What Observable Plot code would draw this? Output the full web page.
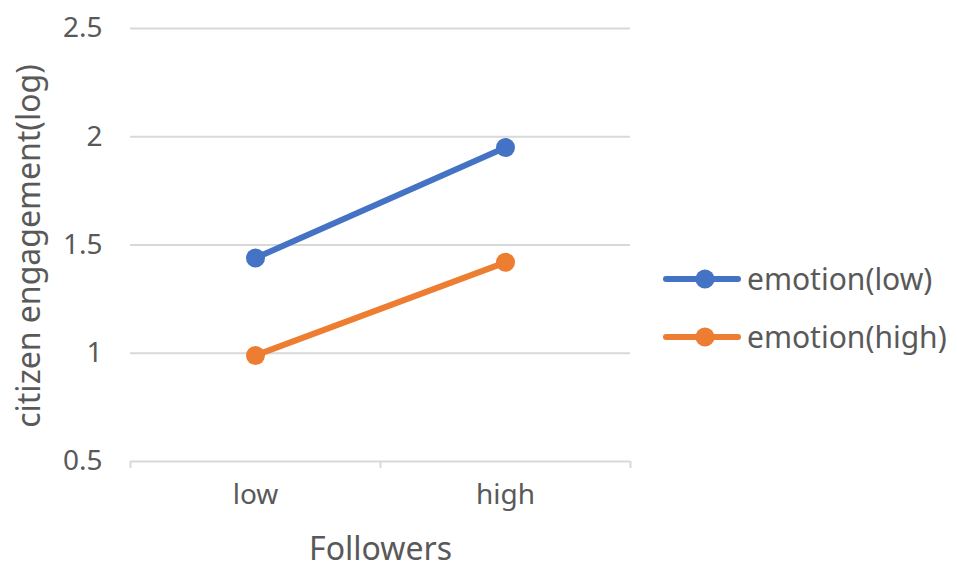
<!DOCTYPE html>
<html>
<head>
<meta charset="utf-8">
<script src="https://cdn.jsdelivr.net/npm/d3@7"></script>
<script src="https://cdn.jsdelivr.net/npm/@observablehq/plot@0.6"></script>
<style>
  html, body { margin: 0; padding: 0; background: #fff; }
  #wrap { position: relative; width: 957px; height: 579px; font-family: "Noto Sans", sans-serif; }
  .legend { position: absolute; left: 663px; display: flex; align-items: center; color: #595959; font-size: 30px; }
  .legend svg { margin-right: 6px; }
</style>
</head>
<body>
<div id="wrap"></div>
<script>
const followers = ["low", "high"];
const seriesNames = ["emotion(low)", "emotion(high)"];
const emotionLow = [1.44, 1.95];
const emotionHigh = [0.99, 1.42];
const yTicks = [0.5, 1, 1.5, 2, 2.5];
const colors = ["#4472C4", "#ED7D31"];
const yTitle = "citizen engagement(log)";
const xTitle = "Followers";

const xPos = followers.map((f, i) => i + 0.5);
const data = [];
followers.forEach((f, i) => {
  data.push({series: seriesNames[0], x: xPos[i], y: emotionLow[i]});
  data.push({series: seriesNames[1], x: xPos[i], y: emotionHigh[i]});
});

const font = "Noto Sans, sans-serif";
const chart = Plot.plot({
  width: 957,
  height: 579,
  marginLeft: 130,
  marginRight: 327,
  marginTop: 28,
  marginBottom: 118,
  style: {fontFamily: font, color: "#595959", background: "#fff"},
  x: {type: "linear", domain: [0, followers.length]},
  y: {domain: [0.5, 2.5]},
  color: {domain: seriesNames, range: colors},
  marks: [
    Plot.gridY(yTicks.slice(1), {stroke: "#d9d9d9", strokeOpacity: 1, strokeWidth: 2}),
    Plot.ruleY([0.5], {stroke: "#d9d9d9", strokeWidth: 2}),
    Plot.axisX({ticks: d3.range(followers.length + 1), tickSize: 7, tickFormat: () => "", stroke: "#d9d9d9", strokeWidth: 2, label: null}),
    Plot.axisX({ticks: xPos, tickSize: 0, tickPadding: 23, tickFormat: d => followers[Math.round(d - 0.5)], fontSize: 28, fill: "#595959", label: null}),
    Plot.axisY({ticks: yTicks, tickSize: 0, tickPadding: 28, tickFormat: d => String(d), fontSize: 28, fill: "#595959", label: null}),
    Plot.text([yTitle], {frameAnchor: "left", rotate: -90, dx: -101, dy: 1, fontSize: 32, fill: "#595959", textAnchor: "middle", lineAnchor: "middle"}),
    Plot.text([xTitle], {frameAnchor: "bottom", dy: 88, fontSize: 32, fill: "#595959", textAnchor: "middle", lineAnchor: "middle"}),
    Plot.line(data, {x: "x", y: "y", stroke: "series", z: "series", strokeWidth: 6}),
    Plot.dot(data, {x: "x", y: "y", fill: "series", r: 9.5})
  ]
});
const wrap = document.getElementById("wrap");
wrap.appendChild(chart);

const legendTops = [258, 316];
seriesNames.forEach((name, i) => {
  const div = document.createElement("div");
  div.className = "legend";
  div.style.top = legendTops[i] + "px";
  div.innerHTML = `<svg width="78" height="24"><line x1="3" y1="12" x2="75" y2="12" stroke="${colors[i]}" stroke-width="6" stroke-linecap="round"/><circle cx="42" cy="12" r="9.5" fill="${colors[i]}"/></svg><span>${name}</span>`;
  wrap.appendChild(div);
});
</script>
</body>
</html>
